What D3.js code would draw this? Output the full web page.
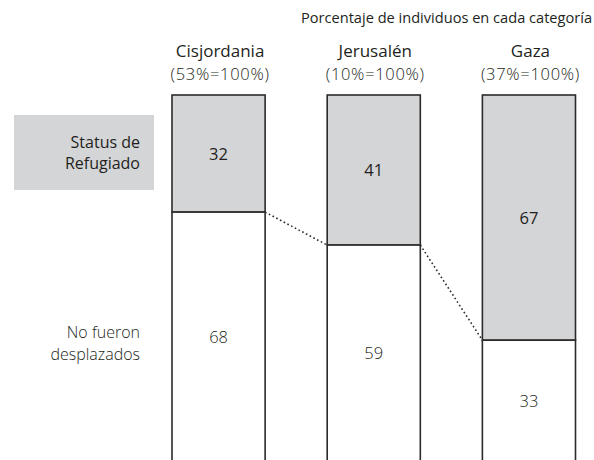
<!DOCTYPE html>
<html>
<head>
<meta charset="utf-8">
<script src="https://cdn.jsdelivr.net/npm/d3@7"></script>
<style>
  html, body { margin: 0; padding: 0; background: #fff; }
  svg { display: block; }
  text { font-family: "Open Sans", "Noto Sans", sans-serif; fill: #231f20; }
</style>
</head>
<body>
<div id="chart"></div>
<script>
// ---- data ----
const categories = ["Cisjordania", "Jerusalén", "Gaza"];
const shares = [53, 10, 37];               // share of individuals (=100%)
const refugiado = [32, 41, 67];            // Status de Refugiado (%)
const noDesplazados = [68, 59, 33];        // No fueron desplazados (%)
const title = "Porcentaje de individuos en cada categoría";
const rowLabels = [["Status de", "Refugiado"], ["No fueron", "desplazados"]];

// ---- layout ----
const W = 594, H = 460;
const svg = d3.select("#chart").append("svg")
  .attr("width", W).attr("height", H);

const x = d3.scaleBand().domain(categories).range([172, 575.5])
  .paddingInner(0.4).paddingOuter(0);
const y = d3.scaleLinear().domain([0, 100]).range([95, 461]);

const gray = "#d4d5d7", stroke = "#2b2b2b";

// title
svg.append("text").attr("x", 592).attr("y", 22.5)
  .attr("text-anchor", "end").style("font-size", "14.6px")
  .text(title);

// headers
const hdr = svg.selectAll("g.hdr").data(categories).join("g")
  .attr("class", "hdr")
  .attr("transform", d => `translate(${x(d) + x.bandwidth() / 2 + 1.5},0)`);
hdr.append("text").attr("y", 57).attr("text-anchor", "middle")
  .style("font-size", "17px").text(d => d);
hdr.append("text").attr("y", 80).attr("text-anchor", "middle")
  .style("font-size", "16.5px").style("font-weight", "300")
  .style("letter-spacing", "0.7px")
  .text((d, i) => `(${shares[i]}%=100%)`);

// bars
const bars = svg.selectAll("g.bar").data(categories).join("g").attr("class", "bar");
bars.append("rect")
  .attr("x", d => x(d)).attr("width", x.bandwidth())
  .attr("y", y(0)).attr("height", (d, i) => y(refugiado[i]) - y(0))
  .attr("fill", gray).attr("stroke", stroke).attr("stroke-width", 1.6);
bars.append("rect")
  .attr("x", d => x(d)).attr("width", x.bandwidth())
  .attr("y", (d, i) => y(refugiado[i]))
  .attr("height", (d, i) => y(refugiado[i] + noDesplazados[i]) - y(refugiado[i]))
  .attr("fill", "#fff").attr("stroke", stroke).attr("stroke-width", 1.6);

// value labels
bars.append("text")
  .attr("x", d => x(d) + x.bandwidth() / 2)
  .attr("y", (d, i) => y(refugiado[i] / 2))
  .attr("dy", "0.36em").attr("text-anchor", "middle")
  .style("font-size", "16.5px")
  .text((d, i) => refugiado[i]);
bars.append("text")
  .attr("x", d => x(d) + x.bandwidth() / 2)
  .attr("y", (d, i) => y(refugiado[i] + noDesplazados[i] / 2))
  .attr("dy", "0.36em").attr("text-anchor", "middle")
  .style("font-size", "16.5px").style("font-weight", "300")
  .text((d, i) => noDesplazados[i]);

// dotted connectors
for (let i = 0; i < categories.length - 1; i++) {
  svg.append("line")
    .attr("x1", x(categories[i]) + x.bandwidth())
    .attr("y1", y(refugiado[i]))
    .attr("x2", x(categories[i + 1]))
    .attr("y2", y(refugiado[i + 1]))
    .attr("stroke", stroke).attr("stroke-width", 1.6)
    .attr("stroke-dasharray", "1.6,2.6");
}

// row labels
svg.append("rect").attr("x", 14).attr("y", 115).attr("width", 140).attr("height", 75)
  .attr("fill", gray);
const lab1 = svg.append("text").attr("text-anchor", "end").style("font-size", "16px");
rowLabels[0].forEach((t, k) => lab1.append("tspan").attr("x", 140).attr("y", 147.5 + k * 21.5).text(t));
const lab2 = svg.append("text").attr("text-anchor", "end").style("font-size", "16px")
  .style("font-weight", "300");
rowLabels[1].forEach((t, k) => lab2.append("tspan").attr("x", 140).attr("y", 338 + k * 21.5).text(t));
</script>
</body>
</html>
